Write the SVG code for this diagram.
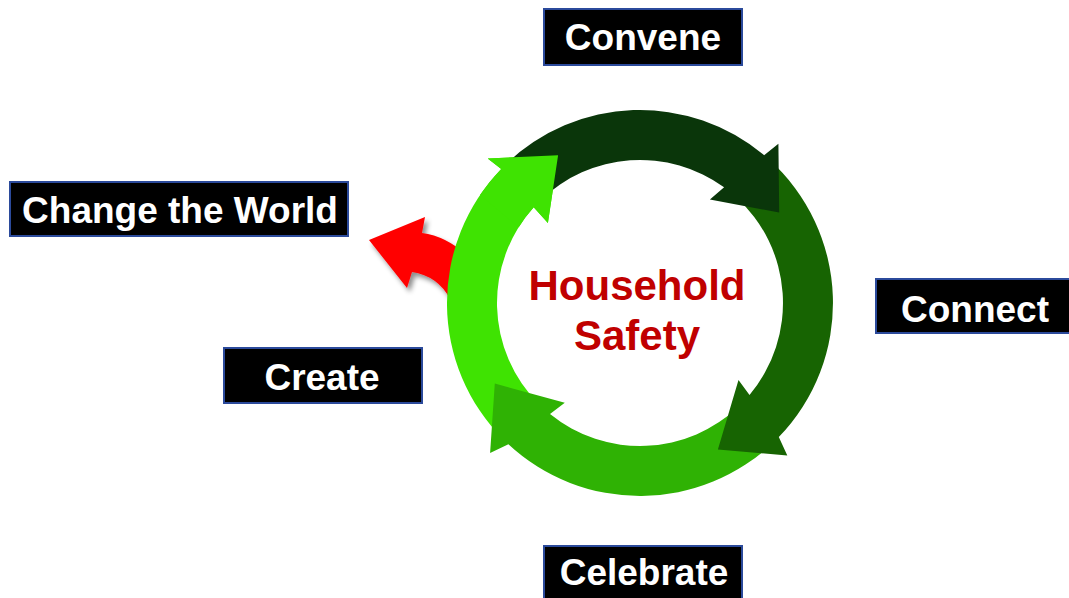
<svg xmlns="http://www.w3.org/2000/svg" width="1069" height="598" viewBox="0 0 1069 598">
<style>
.box{fill:#000;stroke:#2b4a9b;stroke-width:2}
.lbl{font-family:"Liberation Sans",Arial,sans-serif;font-weight:bold;font-size:37px;fill:#fff;text-anchor:middle}
.title{font-family:"Liberation Sans",Arial,sans-serif;font-weight:bold;font-size:42px;fill:#c00000;text-anchor:middle}
</style>
<defs>
<filter id="sh" x="-30%" y="-30%" width="160%" height="160%">
<feDropShadow dx="3" dy="4" stdDeviation="2.5" flood-color="#000" flood-opacity="0.45"/>
</filter>
</defs>
<rect width="1069" height="598" fill="#fff"/>
<g id="connectors">
<path id="red-arrow" filter="url(#sh)" fill="#ff0000" d="M369,240 L425,217 L422,233 Q446,236 468,256 L472,305 L450,299 Q438,276 412,272 L407,288 Z"/>
<path id="arrow-create" fill="#3fe302" d="M503.5,439.5 A193,193 0 0 1 501.2,168.9 L487.7,158.4 L558.1,155.2 L547.9,223 L533.7,207.3 A143,143 0 0 0 538.9,404.1 Z"/>
<path id="arrow-celebrate" fill="#2fb204" d="M774.1,441.8 A193,193 0 0 1 508.4,444.2 L490.1,452.9 L494.8,383.5 L564.8,402.8 L550,414.1 A143,143 0 0 0 739.3,405.9 Z"/>
<path id="arrow-connect" fill="#176402" d="M769.1,159.6 A193,193 0 0 1 778.8,437.1 L787.3,455.5 L717.9,449.6 L738.5,380 L749.5,394.9 A143,143 0 0 0 735.7,196.7 Z"/>
<path id="arrow-convene" fill="#0a360a" d="M505.9,164.2 A193,193 0 0 1 764.1,155.2 L778.4,143.8 L779.2,212.6 L709.9,199.4 L724.1,187.3 A143,143 0 0 0 540.7,200.1 Z"/>
<path id="arrow-create-head" fill="#3fe302" d="M480,195.1 A193,193 0 0 1 501.2,168.9 L487.7,158.4 L558.1,155.2 L547.9,223 L533.7,207.3 A143,143 0 0 0 518.7,227.2 Z"/>
</g>
<g id="center">
<text class="title" x="637" y="300">Household</text>
<text class="title" x="637" y="350">Safety</text>
</g>
<g id="convene">
<rect class="box" x="544" y="9" width="198" height="56"/>
<text class="lbl" x="643" y="50">Convene</text>
</g>
<g id="connect">
<rect class="box" x="876" y="279" width="200" height="54"/>
<text class="lbl" x="975" y="322">Connect</text>
</g>
<g id="celebrate">
<rect class="box" x="544" y="546" width="198" height="60"/>
<text class="lbl" x="644" y="585">Celebrate</text>
</g>
<g id="create">
<rect class="box" x="224" y="348" width="198" height="55"/>
<text class="lbl" x="322" y="390">Create</text>
</g>
<g id="change-the-world">
<rect class="box" x="10" y="182" width="338" height="54"/>
<text class="lbl" x="180" y="223">Change the World</text>
</g>
</svg>
